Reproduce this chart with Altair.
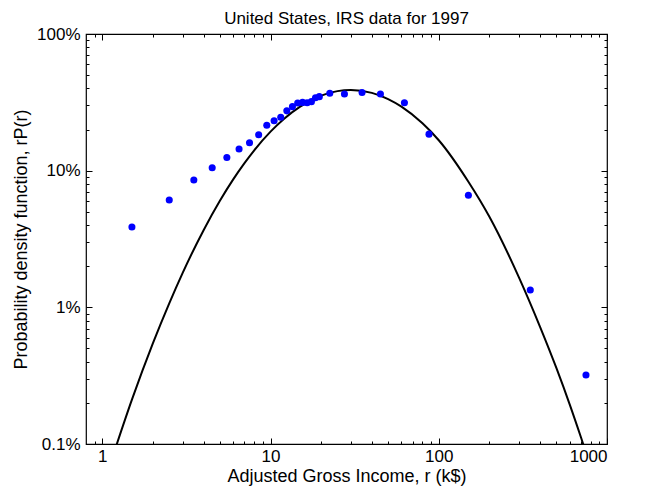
import altair as alt
import pandas as pd

# IRS 1997 data points (income in k$, rP(r) in %)
income = [1.5, 2.5, 3.5, 4.5, 5.5, 6.5, 7.5, 8.5, 9.5, 10.5, 11.5, 12.5, 13.5, 14.5,
          15.5, 16.5, 17.5, 18.5, 19.5, 22.5, 27.5, 35, 45, 62.5, 87.5, 150, 350, 750]
density = [3.87, 6.1, 8.55, 10.5, 12.5, 14.4, 16.0, 18.3, 21.5, 23.2, 24.6, 27.4, 29.4, 31.3,
           31.6, 31.4, 32.0, 34.2, 34.8, 36.8, 36.4, 37.3, 36.4, 31.4, 18.5, 6.6, 1.34, 0.32]

# fitted curve
curve_x = [1.2, 1.5, 2, 2.5, 3, 4, 5, 6, 7, 8, 10, 12, 15, 20, 25, 30, 40, 50, 60, 80,
           100, 150, 200, 300, 400, 500, 600, 700, 800]
curve_y = [0.094, 0.211, 0.547, 1.07, 1.78, 3.67, 6.02, 8.63, 11.35, 14.1, 19.3, 23.9, 29.4,
           35.4, 38.2, 38.9, 37.1, 33.4, 29.4, 22.2, 16.7, 8.3, 4.6, 1.65, 0.72, 0.36, 0.195,
           0.112, 0.068]

x_major = [1, 10, 100, 1000]
x_minor = [0.9, 2, 3, 4, 5, 6, 7, 8, 9, 20, 30, 40, 50, 60, 70, 80, 90,
           200, 300, 400, 500, 600, 700, 800, 900]
y_major = [0.1, 1, 10, 100]
y_minor = [0.2, 0.3, 0.4, 0.5, 0.6, 0.7, 0.8, 0.9, 2, 3, 4, 5, 6, 7, 8, 9,
           20, 30, 40, 50, 60, 70, 80, 90]

W, H = 521, 410
FONT = "Liberation Sans"

pts = pd.DataFrame({"x": income, "y": density})
crv = pd.DataFrame({"x": curve_x, "y": curve_y})

xs = alt.Scale(type="log", domain=[0.8, 1000], nice=False)
ys = alt.Scale(type="log", domain=[0.1, 100], nice=False)


def tick_axis(orient, offset, values, size):
    return alt.Axis(orient=orient, offset=offset, values=values, tickSize=size,
                    labels=False, domain=False, grid=False, title=None,
                    tickColor="black", tickWidth=1)


main = alt.Chart(pts).mark_circle(size=50, color="#0000ff", opacity=1).encode(
    x=alt.X("x:Q", scale=xs, axis=alt.Axis(
        orient="bottom", values=x_major, labelExpr="format(datum.value, 'd')",
        ticks=False, tickSize=0, domain=False, grid=False, labelPadding=4,
        labelFontSize=17, labelFont=FONT, labelColor="black",
        title="Adjusted Gross Income, r (k$)", titleFontSize=18, titleFont=FONT,
        titleFontWeight="normal", titleColor="black", titlePadding=3)),
    y=alt.Y("y:Q", scale=ys, axis=alt.Axis(
        orient="left", values=y_major, labelExpr="datum.value + '%'",
        ticks=False, tickSize=0, domain=False, grid=False, labelPadding=6,
        labelFontSize=17, labelFont=FONT, labelColor="black",
        title="Probability density function, rP(r)", titleFontSize=18, titleFont=FONT,
        titleFontWeight="normal", titleColor="black", titlePadding=6)),
)

line = alt.Chart(crv).mark_line(color="black", strokeWidth=2, clip=True,
                                interpolate="monotone").encode(
    x=alt.X("x:Q", scale=xs, axis=tick_axis("top", -H, x_major, 6)),
    y=alt.Y("y:Q", scale=ys, axis=tick_axis("right", -W, y_major, 6)),
)

d1 = alt.Chart(pts).mark_point(opacity=0).encode(
    x=alt.X("x:Q", scale=xs, axis=tick_axis("top", -H, x_minor, 3)),
    y=alt.Y("y:Q", scale=ys, axis=tick_axis("right", -W, y_minor, 3)),
)
d2 = alt.Chart(pts).mark_point(opacity=0).encode(
    x=alt.X("x:Q", scale=xs, axis=tick_axis("bottom", -H, x_major, 6)),
    y=alt.Y("y:Q", scale=ys, axis=tick_axis("left", -W, y_major, 6)),
)
d3 = alt.Chart(pts).mark_point(opacity=0).encode(
    x=alt.X("x:Q", scale=xs, axis=tick_axis("bottom", -H, x_minor, 3)),
    y=alt.Y("y:Q", scale=ys, axis=tick_axis("left", -W, y_minor, 3)),
)

chart = alt.layer(line, main, d1, d2, d3).resolve_axis(
    x="independent", y="independent"
).properties(
    width=W, height=H,
    title=alt.TitleParams("United States, IRS data for 1997", fontSize=17, font=FONT,
                          fontWeight="normal", color="black", offset=-3, anchor="middle"),
    autosize=alt.AutoSizeParams(type="none"),
    padding={"left": 78, "top": 26, "right": 40, "bottom": 48},
).configure_view(stroke="black", strokeWidth=1.2)

chart.save("out.html", embed_options={"renderer": "svg", "actions": False})
